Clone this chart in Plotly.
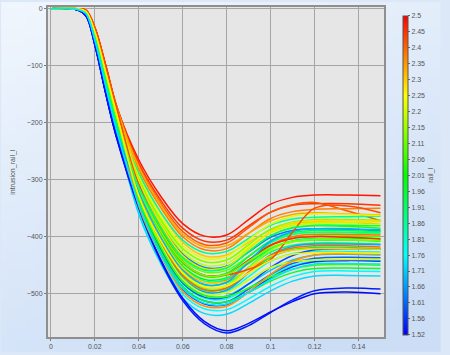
import base64
import struct
import zlib

import plotly.graph_objects as go
from plotly.colors import sample_colorscale

# x sample positions (time) shared by all curves
x_time = [0, 0.012, 0.016, 0.02, 0.025, 0.03, 0.04, 0.05, 0.06, 0.07,
          0.08, 0.09, 0.10, 0.11, 0.12, 0.135, 0.15]

# colour value (rail_l) of each curve
rail_l = [2.48, 2.45, 2.42, 2.38, 2.34, 2.31, 1.88, 2.25, 2.22, 2.19,
          1.64, 2.13, 2.10, 2.07, 2.04, 2.01, 2.39, 1.95, 1.92, 1.89,
          1.86, 1.99, 1.80, 1.78, 1.76, 1.73, 1.71, 1.68, 2.17, 1.62,
          1.60, 1.58, 1.55, 1.53, 2.40, 2.46, 2.30, 2.21, 1.96, 2.06,
          2.36, 1.69, 2.29, 2.43, 2.12, 1.91, 2.27, 1.74]

# intrusion_rail_l values of each curve at x_time
intrusion_rail_l = [
    [0, 0, -3, -33, -100, -172, -265, -329, -377, -399, -397, -370, -343, -331, -327, -327, -328],
    [0, 0, -3, -33, -100, -172, -271, -336, -385, -408, -406, -381, -357, -345, -342, -342, -345],
    [0, 0, -3, -34, -101, -173, -275, -341, -391, -414, -411, -384, -357, -344, -340, -355, -372],
    [0, 0, -3, -33, -100, -172, -281, -349, -400, -423, -421, -394, -368, -356, -352, -351, -350],
    [0, 0, -4, -35, -104, -176, -277, -344, -395, -418, -416, -394, -372, -361, -358, -360, -362],
    [0, 0, -4, -36, -106, -178, -288, -358, -410, -434, -432, -410, -388, -377, -374, -375, -378],
    [0, -1, -7, -46, -122, -196, -288, -357, -406, -428, -426, -403, -380, -369, -366, -365, -364],
    [0, 0, -5, -40, -112, -185, -298, -369, -421, -443, -441, -417, -393, -381, -378, -378, -380],
    [0, 0, -5, -41, -113, -186, -295, -365, -416, -438, -435, -406, -378, -364, -360, -361, -363],
    [0, 0, -5, -41, -114, -187, -303, -375, -427, -450, -447, -420, -393, -380, -376, -375, -374],
    [0, -2, -11, -58, -142, -218, -306, -379, -431, -454, -452, -427, -401, -389, -386, -387, -390],
    [0, 0, -5, -42, -115, -188, -299, -370, -421, -444, -441, -414, -387, -374, -370, -370, -371],
    [0, -1, -7, -48, -125, -200, -315, -387, -440, -462, -459, -434, -408, -396, -393, -393, -395],
    [0, -1, -7, -48, -125, -200, -320, -393, -447, -470, -467, -441, -415, -403, -399, -399, -400],
    [0, -1, -7, -48, -125, -200, -311, -382, -435, -457, -453, -426, -398, -385, -381, -382, -385],
    [0, -1, -7, -48, -125, -200, -324, -397, -452, -475, -472, -447, -421, -409, -406, -406, -408],
    [0, 0, -4, -36, -106, -180, -327, -402, -457, -480, -476, -445, -415, -400, -396, -396, -397],
    [0, -1, -8, -50, -128, -203, -319, -392, -446, -468, -464, -435, -407, -393, -389, -389, -391],
    [0, -1, -8, -50, -128, -203, -330, -406, -462, -485, -481, -454, -427, -415, -411, -411, -413],
    [0, -1, -8, -51, -130, -206, -334, -410, -466, -490, -486, -454, -422, -407, -403, -403, -404],
    [0, -1, -8, -51, -130, -206, -326, -400, -455, -478, -474, -442, -411, -396, -392, -392, -393],
    [0, -1, -8, -50, -128, -205, -332, -412, -469, -494, -491, -464, -436, -423, -419, -419, -421],
    [0, -1, -9, -54, -135, -212, -336, -417, -474, -500, -497, -470, -443, -430, -426, -426, -427],
    [0, -1, -9, -54, -135, -212, -342, -424, -483, -508, -509, -490, -468, -451, -442, -441, -442],
    [0, -1, -9, -55, -137, -215, -355, -440, -501, -527, -528, -509, -487, -470, -461, -460, -461],
    [0, -1, -9, -56, -138, -217, -360, -447, -508, -535, -536, -517, -495, -478, -469, -468, -469],
    [0, -1, -9, -55, -136, -213, -339, -420, -478, -503, -504, -483, -459, -441, -432, -431, -432],
    [0, -2, -12, -62, -148, -225, -329, -412, -472, -497, -494, -463, -432, -417, -413, -413, -414],
    [0, 0, -5, -42, -116, -192, -324, -405, -464, -489, -486, -455, -424, -409, -405, -405, -406],
    [0, -2, -12, -62, -148, -225, -341, -426, -488, -513, -514, -492, -466, -447, -438, -436, -437],
    [0, -2, -12, -62, -148, -225, -336, -420, -481, -506, -506, -483, -454, -433, -423, -421, -422],
    [0, -2, -12, -62, -148, -225, -344, -430, -492, -518, -519, -497, -472, -453, -444, -442, -443],
    [0, -2, -13, -64, -150, -228, -350, -443, -512, -553, -569, -556, -533, -511, -495, -490, -492],
    [0, -2, -13, -63, -149, -227, -347, -440, -508, -549, -565, -552, -532, -514, -500, -497, -500],
    [0, 0, -3, -34, -103, -180, -327, -408, -468, -493, -490, -462, -433, -420, -416, -416, -418],
    [0, 0, -3, -33, -101, -176, -310, -388, -444, -468, -466, -441, -415, -403, -400, -401, -404],
    [0, 0, -4, -36, -106, -179, -318, -398, -455, -480, -478, -456, -434, -424, -421, -421, -422],
    [0, 0, -5, -41, -114, -188, -331, -414, -474, -500, -498, -476, -454, -444, -441, -440, -440],
    [0, -1, -8, -50, -128, -204, -341, -426, -488, -513, -514, -498, -478, -463, -456, -455, -456],
    [0, -1, -7, -48, -126, -202, -335, -418, -479, -504, -505, -490, -471, -457, -450, -449, -450],
    [0, 0, -4, -36, -108, -185, -346, -433, -496, -522, -522, -497, -466, -443, -432, -430, -431],
    [0, -1, -9, -55, -136, -213, -321, -401, -459, -484, -480, -444, -408, -391, -386, -386, -388],
    [0, 0, -4, -37, -108, -182, -302, -378, -433, -456, -453, -422, -391, -376, -372, -372, -373],
    [0, 0, -3, -34, -102, -176, -310, -388, -444, -468, -467, -457, -440, -392, -350, -346, -358],
    [0, 0, -5, -42, -115, -188, -315, -390, -444, -468, -466, -443, -419, -408, -405, -405, -407],
    [0, -1, -8, -50, -128, -203, -313, -384, -437, -459, -455, -426, -398, -384, -380, -380, -381],
    [0, 0, -5, -40, -112, -186, -328, -407, -463, -488, -486, -464, -442, -431, -428, -428, -429],
    [0, -1, -9, -55, -136, -214, -343, -431, -491, -517, -518, -498, -475, -457, -448, -447, -448],
]

# colorbar ticks
cb_min, cb_max = 1.52, 2.5
cb_ticktext = ["2.5", "2.45", "2.4", "2.35", "2.3", "2.25", "2.2", "2.15", "2.11",
               "2.06", "2.01", "1.96", "1.91", "1.86", "1.81", "1.76", "1.71",
               "1.66", "1.61", "1.56", "1.52"]
cb_tickvals = [cb_max - i * (cb_max - cb_min) / 20 for i in range(21)]

x_tickvals = [0, 0.02, 0.04, 0.06, 0.08, 0.1, 0.12, 0.14]
x_ticktext = ["0", "0.02", "0.04", "0.06", "0.08", "0.1", "0.12", "0.14"]
y_tickvals = [0, -100, -200, -300, -400, -500]

jet = [[0.0, "#0000ff"], [0.25, "#00ffff"], [0.5, "#00ff00"],
       [0.75, "#ffff00"], [1.0, "#ff0000"]]


def gradient_png(w, h):
    """Small light-blue background gradient (lighter at top-left)."""
    top = (240, 246, 253)
    bot = (204, 222, 246)
    rows = []
    for j in range(h):
        row = bytearray([0])
        for i in range(w):
            t = min(1.0, 0.75 * j / (h - 1) + 0.35 * i / (w - 1))
            row += bytes(int(round(top[k] + (bot[k] - top[k]) * t)) for k in range(3))
        rows.append(bytes(row))
    raw = b"".join(rows)

    def chunk(tag, data):
        c = struct.pack(">I", len(data)) + tag + data
        return c + struct.pack(">I", zlib.crc32(tag + data) & 0xffffffff)

    png = (b"\x89PNG\r\n\x1a\n"
           + chunk(b"IHDR", struct.pack(">IIBBBBB", w, h, 8, 2, 0, 0, 0))
           + chunk(b"IDAT", zlib.compress(raw, 9))
           + chunk(b"IEND", b""))
    return "data:image/png;base64," + base64.b64encode(png).decode()


W, H = 450, 355
ML, MR, MT, MB = 48, 58, 5, 15
PW, PH = W - ML - MR, H - MT - MB

fig = go.Figure()
for c, ys in zip(rail_l, intrusion_rail_l):
    col = sample_colorscale(jet, [(c - cb_min) / (cb_max - cb_min)])[0]
    fig.add_trace(go.Scatter(
        x=x_time, y=ys, mode="lines",
        line=dict(color=col, width=1.5, shape="spline", smoothing=1.0),
        showlegend=False, hoverinfo="skip"))

fig.add_trace(go.Scatter(
    x=[None], y=[None], mode="markers", showlegend=False, hoverinfo="skip",
    marker=dict(color=[cb_min, cb_max], cmin=cb_min, cmax=cb_max,
                colorscale=jet, showscale=True,
                colorbar=dict(
                    x=1.026, xanchor="left", y=0.49, yanchor="middle",
                    thickness=5, lenmode="pixels", len=339,
                    outlinewidth=1, outlinecolor="#555",
                    tickmode="array", tickvals=cb_tickvals, ticktext=cb_ticktext,
                    ticks="outside", ticklen=2, tickcolor="#666",
                    tickfont=dict(size=7, color="#555", family="Liberation Sans"),
                    title=dict(text="rail_l", side="right",
                               font=dict(size=7, color="#555", family="Liberation Sans")),
                ))))

axis_common = dict(
    showgrid=True, gridcolor="#a6a6a6", gridwidth=1,
    showline=True, linecolor="#8f8f8f", linewidth=2, mirror=True,
    ticks="outside", ticklen=2, tickcolor="#777",
    tickfont=dict(size=7, color="#555", family="Liberation Sans"),
    zeroline=False,
)

fig.update_layout(
    width=W, height=H,
    margin=dict(l=ML, r=MR, t=MT, b=MB),
    paper_bgcolor="#dce8f7",
    plot_bgcolor="#e6e6e6",
    xaxis=dict(range=[-0.0013, 0.1516], tickvals=x_tickvals, ticktext=x_ticktext,
               **axis_common),
    yaxis=dict(range=[-576, 3], tickvals=y_tickvals, **axis_common),
    images=[dict(source=gradient_png(45, 36), xref="paper", yref="paper",
                 x=-ML / PW, y=1 + MT / PH, sizex=W / PW, sizey=H / PH,
                 xanchor="left", yanchor="top", sizing="stretch", layer="below")],
    shapes=[dict(type="rect", xref="paper", yref="paper", x0=0, x1=1, y0=0, y1=1,
                 fillcolor="#e6e6e6", line=dict(width=0), layer="below")],
    annotations=[dict(text="intrusion_rail_l", xref="paper", yref="paper",
                      x=-0.105, y=0.5, textangle=-90, showarrow=False,
                      xanchor="center", yanchor="middle",
                      font=dict(size=7, color="#555", family="Liberation Sans"))],
)

fig.write_html("out.html",
               config={"displayModeBar": False},
               post_script="document.body.style.margin='0';"
                           "document.body.style.overflow='hidden';")
